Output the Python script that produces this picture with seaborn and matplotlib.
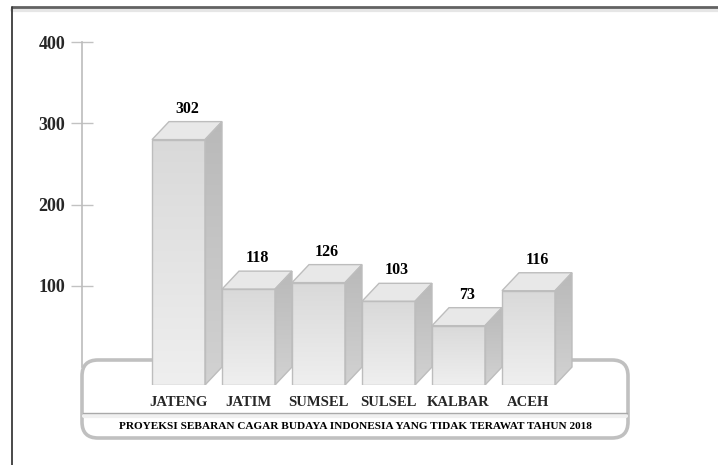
import numpy as np
import matplotlib
matplotlib.use("Agg")
import matplotlib.pyplot as plt
from matplotlib.patches import Polygon, FancyBboxPatch
from matplotlib.lines import Line2D
from matplotlib.colors import LinearSegmentedColormap
import seaborn as sns

# Data
categories = ["JATENG", "JATIM", "SUMSEL", "SULSEL", "KALBAR", "ACEH"]
values = [302, 118, 126, 103, 73, 116]
y_ticks = [100, 200, 300, 400]
title = "PROYEKSI SEBARAN CAGAR BUDAYA INDONESIA YANG TIDAK TERAWAT TAHUN 2018"

sns.set_style("white")
plt.rcParams["font.family"] = ["Liberation Serif", "DejaVu Serif"]
plt.rcParams["font.weight"] = "bold"

W, H, DPI = 718, 465, 100
fig = plt.figure(figsize=(W / DPI, H / DPI), dpi=DPI)
fig.patch.set_facecolor("white")

# Layout in pixels (origin top-left)
slot = 70.0            # px per category
bar_w = 53 / 70        # bar width in category units
depth_x, depth_y = 17, 18
unit = 0.8125          # px per value unit
front_left, front_base, top_px, right_px = 65, 385, 20, 653
first_center = 178.5

ax_w = (right_px - front_left) / W
ax_h = (front_base - top_px) / H
ax = fig.add_axes([front_left / W, (H - front_base) / H, ax_w, ax_h])
axb = fig.add_axes([(front_left + depth_x) / W, (H - front_base + depth_y) / H, ax_w, ax_h])

xlim = (-(first_center - front_left) / slot,
        -(first_center - front_left) / slot + (right_px - front_left) / slot)
ylim = (0, (front_base - top_px) / unit)
dx = depth_x / slot
dy = depth_y / unit

# Back plane: value axis
for a in (ax, axb):
    a.set_facecolor("none")
    for s in a.spines.values():
        s.set_visible(False)
axb.spines["left"].set_visible(True)
axb.spines["left"].set_color("#bcbcbc")
axb.spines["left"].set_linewidth(1.2)
axb.spines["left"].set_bounds(0, 400)
axb.set_xlim(*xlim)
axb.set_ylim(*ylim)
axb.set_xticks([])
axb.set_yticks(y_ticks)
axb.set_yticklabels([str(t) for t in y_ticks])
axb.tick_params(axis="y", left=True, direction="inout", length=16, width=1.0,
                color="#c2c2c2", pad=4, labelsize=13)
for t in axb.get_yticklabels():
    t.set_fontweight("bold")

# Front faces via seaborn
sns.barplot(x=categories, y=values, color="#e2e2e2", width=bar_w, ax=ax,
            edgecolor="none", linewidth=0, zorder=3)

front_cmap = LinearSegmentedColormap.from_list("front", ["#efefef", "#d9d9d9"])
side_cmap = LinearSegmentedColormap.from_list("side", ["#d2d2d2", "#b9b9b9"])
edge = "#bdbdbd"

bars = list(ax.patches)
for p, v in zip(bars, values):
    x0 = p.get_x()
    w = p.get_width()
    x1 = x0 + w
    grad = np.linspace(0, 1, 256).reshape(-1, 1)
    im = ax.imshow(grad, extent=[x0, x1, v, 0], aspect="auto", cmap=front_cmap,
                   zorder=3.1, interpolation="bicubic")
    im.set_clip_path(p)

    side = Polygon([(x1, 0), (x1 + dx, dy), (x1 + dx, v + dy), (x1, v)],
                   closed=True, facecolor="#c6c6c6", edgecolor="none", zorder=3)
    ax.add_patch(side)
    im2 = ax.imshow(grad, extent=[x1, x1 + dx, v + dy, 0], aspect="auto",
                    cmap=side_cmap, zorder=3.1, interpolation="bicubic")
    im2.set_clip_path(side)

    top = Polygon([(x0, v), (x0 + dx, v + dy), (x1 + dx, v + dy), (x1, v)],
                  closed=True, facecolor="#e8e8e8", edgecolor=edge, lw=1.0, zorder=3.2)
    ax.add_patch(top)
    ax.add_patch(Polygon([(x0, 0), (x0, v), (x1, v), (x1, 0)], closed=True,
                         fill=False, edgecolor=edge, lw=1.0, zorder=3.2))
    ax.add_patch(Polygon([(x1, 0), (x1 + dx, dy), (x1 + dx, v + dy), (x1, v)],
                         closed=True, fill=False, edgecolor=edge, lw=1.0, zorder=3.2))

    ax.text(x0 + w / 2 + dx / 2, v + dy + 5 / unit, str(v), ha="center", va="bottom",
            fontsize=11.5, fontweight="bold", color="black", zorder=4)

ax.set_xlim(*xlim)
ax.set_ylim(*ylim)
ax.set_yticks([])
ax.set_xlabel("")
ax.set_ylabel("")
ax.set_xticks(range(len(categories)))
ax.set_xticklabels(categories)
ax.tick_params(axis="x", length=0, pad=8, labelsize=10.5)
for t in ax.get_xticklabels():
    t.set_fontweight("bold")

ax.set_zorder(2)
axb.set_zorder(0)

# Rounded caption box behind the bars
T = fig.dpi_scale_trans
box = FancyBboxPatch((82 / DPI, (H - 438) / DPI), 546 / DPI, 78 / DPI,
                     boxstyle="round,pad=0,rounding_size=0.16", transform=T,
                     facecolor="white", edgecolor="#c0c0c0", lw=2.6, zorder=0.5)
fig.add_artist(box)
fig.add_artist(Line2D([83 / DPI, 627 / DPI], [(H - 413) / DPI] * 2, transform=T,
                      color="#a9a9a9", lw=1.0, zorder=0.7))
fig.add_artist(Line2D([84 / DPI, 626 / DPI], [(H - 416) / DPI] * 2, transform=T,
                      color="#f0f0f0", lw=3.0, zorder=0.6))
fig.text(355 / W, (H - 426) / H, title, ha="center", va="center",
         fontsize=8.1, fontweight="bold", color="black", zorder=3)

# Outer frame: top and left edges
fig.add_artist(Line2D([12 / DPI, W / DPI], [(H - 10) / DPI] * 2, transform=T,
                      color="#e6e6e6", lw=3, zorder=5))
fig.add_artist(Line2D([12 / DPI, W / DPI], [(H - 7) / DPI] * 2, transform=T,
                      color="#626262", lw=2, zorder=5))
fig.add_artist(Line2D([12 / DPI, 12 / DPI], [(H - 7) / DPI, 0], transform=T,
                      color="#3a3a3a", lw=1.3, zorder=5))

fig.savefig("out.png", dpi=DPI, facecolor="white")
